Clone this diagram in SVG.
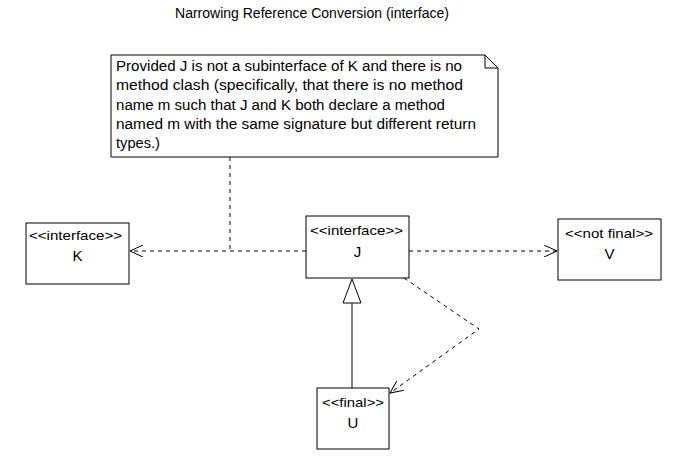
<svg xmlns="http://www.w3.org/2000/svg" width="689" height="468" viewBox="0 0 689 468">
<defs>
<style>
text{font-family:"Liberation Sans",Arial,sans-serif;fill:#000}
.t{font-size:14px}
.s{font-size:13px}
.n{font-size:15px}
.box{fill:#fff;stroke:#000;stroke-width:1}
.dash{fill:none;stroke:#000;stroke-dasharray:4,4}
.solid{fill:none;stroke:#000}
</style>
<marker id="open" markerWidth="14" markerHeight="12" refX="13" refY="6" orient="auto" markerUnits="userSpaceOnUse">
<path d="M0,0 L13,6 L0,12" fill="none" stroke="#000"/>
</marker>
</defs>
<rect width="689" height="468" fill="#fff"/>
<text class="t" x="312" y="18" text-anchor="middle">Narrowing Reference Conversion (interface)</text>
<g id="connectors">
<line class="dash" x1="230" y1="157" x2="230" y2="251"/>
<line class="dash" x1="306" y1="251" x2="130" y2="251" marker-end="url(#open)"/>
<line class="dash" x1="409" y1="251" x2="557" y2="251" marker-end="url(#open)"/>
<polyline class="dash" points="404,278 479,329 390,393" marker-end="url(#open)"/>
<line class="solid" x1="352" y1="388" x2="352" y2="303"/>
<polygon points="352,279 343,303 361,303" fill="#fff" stroke="#000"/>
</g>
<g id="note">
<path class="box" d="M111,55 H485 L498,68 V157 H111 Z"/>
<path class="solid" d="M485,55 V68 H498"/>
<text class="t" x="116" y="71" textLength="346" lengthAdjust="spacingAndGlyphs">Provided J is not a subinterface of K and there is no</text>
<text class="t" x="116" y="90" textLength="347" lengthAdjust="spacingAndGlyphs">method clash (specifically, that there is no method</text>
<text class="t" x="116" y="110" textLength="329" lengthAdjust="spacingAndGlyphs">name m such that J and K both declare a method</text>
<text class="t" x="116" y="129" textLength="360" lengthAdjust="spacingAndGlyphs">named m with the same signature but different return</text>
<text class="t" x="116" y="148" textLength="44" lengthAdjust="spacingAndGlyphs">types.)</text>
</g>
<g id="K">
<rect class="box" x="26" y="223" width="103" height="61"/>
<text class="s" x="29" y="240" textLength="93" lengthAdjust="spacingAndGlyphs">&lt;&lt;interface&gt;&gt;</text>
<text class="n" x="77.5" y="261" text-anchor="middle">K</text>
</g>
<g id="J">
<rect class="box" x="306" y="216" width="103" height="62"/>
<text class="s" x="310" y="235" textLength="93" lengthAdjust="spacingAndGlyphs">&lt;&lt;interface&gt;&gt;</text>
<text class="n" x="357.5" y="257" text-anchor="middle">J</text>
</g>
<g id="V">
<rect class="box" x="558" y="219" width="103" height="61"/>
<text class="s" x="565" y="238" textLength="88" lengthAdjust="spacingAndGlyphs">&lt;&lt;not final&gt;&gt;</text>
<text class="n" x="609.5" y="259" text-anchor="middle">V</text>
</g>
<g id="U">
<rect class="box" x="317" y="388" width="72" height="61"/>
<text class="s" x="322" y="407" textLength="62" lengthAdjust="spacingAndGlyphs">&lt;&lt;final&gt;&gt;</text>
<text class="n" x="353" y="428" text-anchor="middle">U</text>
</g>
</svg>
